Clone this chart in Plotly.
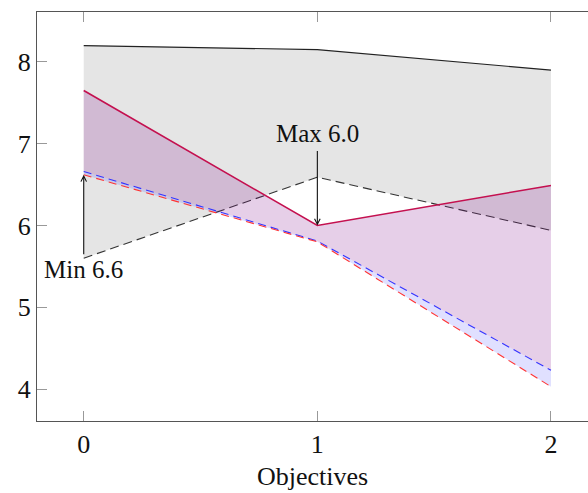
import plotly.graph_objects as go

objectives = [0, 1, 2]
upper_black = [8.20, 8.15, 7.90]
lower_black = [5.60, 6.59, 5.94]
crimson_vals = [7.65, 6.00, 6.49]
blue_vals = [6.66, 5.81, 4.23]
red_vals = [6.62, 5.80, 4.03]
x_ticks = [0, 1, 2]
y_ticks = [4, 5, 6, 7, 8]

FONT = "Liberation Serif"

fig = go.Figure()
fig.add_trace(go.Scatter(x=objectives, y=upper_black, mode="lines",
                         line=dict(color="#222222", width=1.2), showlegend=False))
fig.add_trace(go.Scatter(x=objectives, y=lower_black, mode="lines",
                         line=dict(color="#333333", width=1.1, dash="9px,5px"),
                         fill="tonexty", fillcolor="rgba(0,0,0,0.10)", showlegend=False))
fig.add_trace(go.Scatter(x=objectives, y=crimson_vals, mode="lines",
                         line=dict(color="#c4104f", width=1.6), showlegend=False))
fig.add_trace(go.Scatter(x=objectives, y=blue_vals, mode="lines",
                         line=dict(color="#3333ff", width=1.1, dash="8px,5px"),
                         fill="tonexty", fillcolor="rgba(130,15,140,0.20)", showlegend=False))
fig.add_trace(go.Scatter(x=objectives, y=red_vals, mode="lines",
                         line=dict(color="#ff3333", width=1.1, dash="8px,5px"),
                         fill="tonexty", fillcolor="rgba(0,0,255,0.12)", showlegend=False))

# Max annotation (arrow down to crimson at objective 1)
fig.add_annotation(x=1, y=crimson_vals[1], ax=1, ay=6.93, xref="x", yref="y",
                   axref="x", ayref="y", text="", showarrow=True,
                   arrowhead=5, arrowsize=1.0, arrowwidth=1.1, arrowcolor="#111111")
fig.add_annotation(x=1, y=7.12, xref="x", yref="y", text="Max 6.0", showarrow=False,
                   font=dict(family=FONT, size=25, color="#111111"))
# Min annotation (arrow up to red at objective 0)
fig.add_annotation(x=0, y=red_vals[0], ax=0, ay=5.63, xref="x", yref="y",
                   axref="x", ayref="y", text="", showarrow=True,
                   arrowhead=5, arrowsize=1.0, arrowwidth=1.1, arrowcolor="#111111")
fig.add_annotation(x=0, y=5.46, xref="x", yref="y", text="Min 6.6", showarrow=False,
                   font=dict(family=FONT, size=25, color="#111111"))

fig.update_layout(
    width=588, height=493,
    margin=dict(l=37, r=0, t=12, b=72, autoexpand=False),
    paper_bgcolor="white", plot_bgcolor="white",
    font=dict(family=FONT, size=26, color="#111111"),
    xaxis=dict(range=[-0.2, 2.1585], tickvals=x_ticks, ticks="inside", ticklen=10,
               tickcolor="#999999", tickwidth=1, showline=True, linecolor="#555555",
               linewidth=1.3, mirror="allticks", showgrid=False, zeroline=False,
               automargin=False,
               title=dict(text="Objectives", font=dict(size=26), standoff=8),
               tickfont=dict(size=26)),
    yaxis=dict(range=[3.61, 8.61], tickvals=y_ticks, ticks="inside", ticklen=10,
               tickcolor="#999999", tickwidth=1, showline=True, linecolor="#555555",
               linewidth=1.3, mirror=False, showgrid=False, zeroline=False,
               automargin=False, tickfont=dict(size=26)),
)

fig.write_html(
    "out.html",
    config={"displayModeBar": False},
    post_script="document.body.style.margin='0';document.body.style.overflow='hidden';",
)
